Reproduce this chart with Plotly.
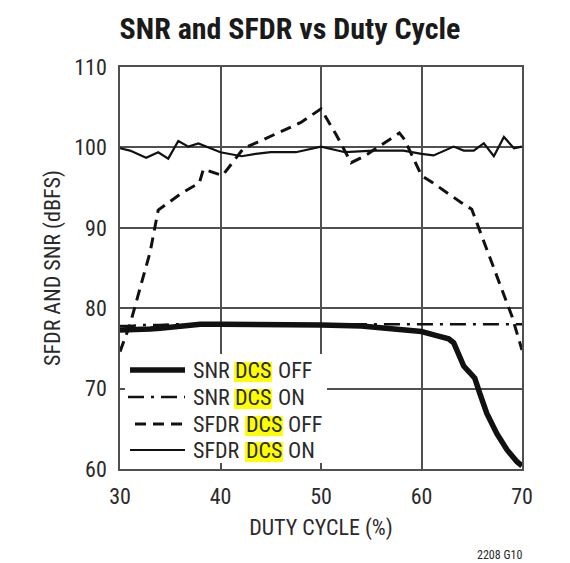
import plotly.graph_objects as go

# ---------------- data ----------------
snr_off_x = [30, 31, 32, 33, 34, 35, 36, 37, 38, 40, 45, 50, 54, 56, 58, 60, 61.5, 62.7, 63.2,
             63.7, 64.2, 64.8, 65.3, 65.8, 66.5, 67.5, 68.5, 69.5, 70]
snr_off_y = [77.3, 77.3, 77.4, 77.4, 77.5, 77.6, 77.7, 77.9, 78.0, 78.0, 78.0, 77.9, 77.8, 77.6, 77.4,
             77.1, 76.6, 76.2, 75.7, 74.3, 72.8, 72.0, 71.3, 69.4, 66.9, 64.4, 62.4, 60.9, 60.4]

snr_on_x = [30, 31, 32, 33, 34, 35, 36, 38, 40, 45, 50, 55, 60, 65, 70]
snr_on_y = [77.8, 77.8, 77.9, 77.9, 77.9, 78.0, 78.0, 78.0, 78.0, 78.0, 78.0, 78.0, 78.0, 78.0, 78.0]

sfdr_off_x = [30, 31, 32, 33, 33.8, 35, 36, 37.9, 38.3, 40.2, 42.3, 43.6, 45, 46.6, 48, 50,
              51.5, 53, 54.3, 56, 57.8, 58.3, 60, 61, 62, 63, 64, 65, 66, 67, 68, 69, 70]
sfdr_off_y = [74.6, 78.0, 82.5, 87.0, 92.2, 93.3, 94.2, 95.6, 97.3, 96.5, 99.9, 100.6, 101.4, 102.3,
              103.1, 104.8, 101.6, 98.1, 98.9, 100.3, 101.8, 101.0, 96.5, 95.7, 94.8, 94.0, 93.1,
              92.3, 89.0, 85.5, 82.2, 79.0, 74.8]

sfdr_on_x = [30, 31, 32.6, 33.8, 34.8, 35.8, 36.8, 37.8, 39, 40, 42.1, 43.5, 45, 47.5, 50, 52.4,
             55.2, 58.2, 60, 61.2, 63.2, 64.2, 65.2, 66.2, 67.2, 68.2, 69.2, 70]
sfdr_on_y = [99.9, 99.6, 98.7, 99.4, 98.6, 100.8, 100.1, 100.5, 99.9, 99.4, 98.9, 99.2, 99.4, 99.4,
             100.1, 99.4, 99.6, 99.6, 99.2, 99.0, 100.1, 99.6, 99.6, 100.5, 98.9, 101.3, 99.9, 100.1]

x_ticks = [30, 40, 50, 60, 70]
y_ticks = [60, 70, 80, 90, 100, 110]

legend_rows = [("SNR", "OFF"), ("SNR", "ON"), ("SFDR", "OFF"), ("SFDR", "ON")]

# ---------------- styling ----------------
FONT = "Roboto Condensed, Liberation Sans Narrow, DejaVu Sans Condensed, Liberation Sans, sans-serif"
INK = "#111111"
TXT = "#2a2a2a"
GRID = "#505050"
YELLOW = "#ffff00"

OFF = 8                      # page body margin
W, H = 570 - OFF, 563 - OFF  # figure size
# plot area in page pixels (as in the reference)
PL, PR, PT, PB = 120, 522, 67, 469
ML, MR, MT, MB = PL - OFF, W - (PR - OFF), PT - OFF, H - (PB - OFF)
PW, PH = PR - PL, PB - PT


def px_x(p):
    return (p - PL) / PW


def px_y(p):
    return (PB - p) / PH


styles = [
    dict(width=5.5, dash="solid"),
    dict(width=2.5, dash="16px,7px,3px,7px"),
    dict(width=3, dash="11px,7px"),
    dict(width=2.2, dash="solid"),
]

fig = go.Figure()
series = [(snr_off_x, snr_off_y), (snr_on_x, snr_on_y), (sfdr_off_x, sfdr_off_y), (sfdr_on_x, sfdr_on_y)]
names = ["SNR DCS OFF", "SNR DCS ON", "SFDR DCS OFF", "SFDR DCS ON"]
for i in [3, 2, 1, 0]:
    xs, ys = series[i]
    fig.add_trace(go.Scatter(x=xs, y=ys, mode="lines", name=names[i], showlegend=False,
                             line=dict(color=INK, width=styles[i]["width"], dash=styles[i]["dash"])))

shapes = []
annotations = []
# legend background (white box inside plot)
shapes.append(dict(type="rect", xref="paper", yref="paper", layer="above",
                   x0=px_x(125), x1=px_x(327), y0=px_y(463), y1=px_y(354),
                   fillcolor="white", line=dict(width=0)))
row_y = [370, 397, 424, 450]
sample_x = [(130, 185), (128, 185), (135, 185), (130, 185)]
LFS = 22
for k, (a, b) in enumerate(legend_rows):
    yc = row_y[k]
    yy = px_y(yc)
    shapes.append(dict(type="line", xref="paper", yref="paper", layer="above",
                       x0=px_x(sample_x[k][0]), x1=px_x(sample_x[k][1]), y0=yy, y1=yy,
                       line=dict(color=INK, width=styles[k]["width"], dash=styles[k]["dash"])))
    x_dcs = 234 if a == "SNR" else 245
    x_last = 277 if a == "SNR" else 287
    shapes.append(dict(type="rect", xref="paper", yref="paper", layer="above",
                       x0=px_x(x_dcs), x1=px_x(x_dcs + 38), y0=px_y(yc + 12), y1=px_y(yc - 8),
                       fillcolor=YELLOW, line=dict(width=0)))
    for txt, xp, anchor in [(a, 192, "left"), ("DCS", x_dcs + 19, "center"), (b, x_last, "left")]:
        annotations.append(dict(text=txt, xref="paper", yref="paper", x=px_x(xp), y=yy,
                                xanchor=anchor, yanchor="middle", showarrow=False,
                                font=dict(family=FONT, size=LFS, color=TXT), borderpad=0))

annotations.append(dict(text="2208 G10", xref="paper", yref="paper", x=px_x(524), y=px_y(555),
                        xanchor="right", yanchor="middle", showarrow=False,
                        font=dict(family=FONT, size=12, color=TXT)))

fig.update_layout(
    width=W, height=H,
    margin=dict(l=ML, r=MR, t=MT, b=MB, autoexpand=False),
    paper_bgcolor="white", plot_bgcolor="white",
    title=dict(text="<b>SNR and SFDR vs Duty Cycle</b>", x=(290 - OFF) / W, xanchor="center",
               y=1 - (28 - OFF) / H, yanchor="middle",
               font=dict(family=FONT, size=30, color="#1a1a1a")),
    shapes=shapes, annotations=annotations, showlegend=False,
)
fig.update_xaxes(range=[30, 70], tickvals=x_ticks, ticktext=[str(v) for v in x_ticks],
                 showgrid=True, gridcolor=GRID, gridwidth=1.5,
                 showline=True, linecolor=GRID, linewidth=1.5, mirror=True,
                 ticks="", zeroline=False, ticklabelstandoff=7,
                 tickfont=dict(family=FONT, size=22, color=TXT),
                 title=dict(text="DUTY CYCLE (%)", font=dict(family=FONT, size=22, color=TXT), standoff=11))
fig.update_yaxes(range=[60, 110], tickvals=y_ticks, ticktext=[str(v) for v in y_ticks],
                 showgrid=True, gridcolor=GRID, gridwidth=1.5,
                 showline=True, linecolor=GRID, linewidth=1.5, mirror=True,
                 ticks="", zeroline=False, ticklabelstandoff=7,
                 tickfont=dict(family=FONT, size=22, color=TXT),
                 title=dict(text="SFDR AND SNR (dBFS)", font=dict(family=FONT, size=22, color=TXT), standoff=8))

fig.write_html("out.html")
